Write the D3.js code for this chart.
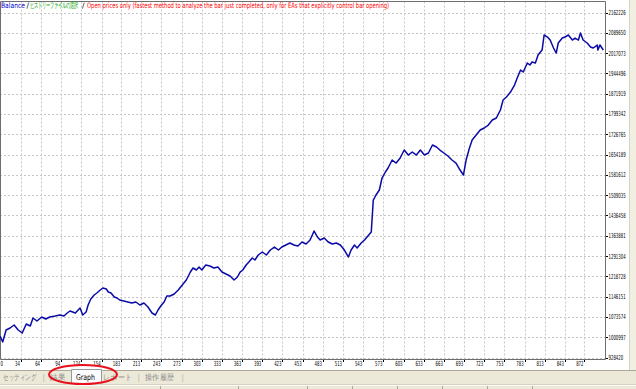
<!DOCTYPE html>
<html>
<head>
<meta charset="utf-8">
<script src="https://cdn.jsdelivr.net/npm/d3@7"></script>
<style>
    html, body { margin: 0; padding: 0; background: #fff; }
    svg { display: block; font-family: "DejaVu Sans", sans-serif; }
</style>
</head>
<body>
<svg id="chart" width="636" height="389"></svg>
<script>

// Trade number of each sampled point on the balance curve.
const trades = [
    3, 7, 12, 18, 24, 30, 36, 42, 48, 52, 58, 65, 71, 77, 85, 92, 98, 103, 107, 115,
    122, 126, 131, 134, 138, 143, 147, 152, 156, 161, 164, 168, 173, 177, 181, 187, 193, 199, 205, 211,
    217, 223, 229, 234, 238, 242, 247, 251, 256, 262, 268, 274, 280, 286, 290, 295, 299, 303, 309, 315,
    321, 327, 333, 339, 345, 351, 356, 360, 364, 369, 373, 378, 382, 387, 393, 399, 405, 411, 417, 422,
    428, 434, 440, 446, 452, 458, 464, 470, 475, 479, 485, 491, 497, 503, 509, 515, 521, 525, 530, 534,
    540, 545, 550, 555, 558, 562, 567, 571, 576, 580, 586, 592, 598, 604, 610, 616, 622, 628, 634, 640,
    646, 652, 657, 663, 669, 675, 681, 687, 692, 696, 701, 705, 711, 717, 723, 729, 735, 741, 747, 751,
    756, 762, 768, 772, 777, 781, 787, 791, 794, 799, 803, 809, 812, 817, 821, 826, 830, 833, 839, 843,
    848, 854, 858, 863, 866, 870, 876, 881, 885, 891, 892, 895, 900
];

// Account balance after each of those trades.
const balance = [
    1005300, 983800, 1026700, 1033900, 1044600, 1026700, 1016000, 1048200, 1041000, 1069700,
    1058900, 1073200, 1066100, 1073200, 1076800, 1080400, 1076800, 1087500, 1094700, 1087500,
    1105400, 1080400, 1091100, 1116100, 1137600, 1151900, 1159100, 1169800, 1176900, 1173400,
    1162600, 1159100, 1144700, 1141200, 1134000, 1130400, 1126900, 1123300, 1126900, 1116100,
    1123300, 1109000, 1087500, 1080400, 1098300, 1112600, 1126900, 1148300, 1148300, 1155500,
    1169800, 1187700, 1205500, 1234100, 1248500, 1241300, 1252000, 1241300, 1259200, 1255600,
    1248500, 1252000, 1234100, 1227000, 1219800, 1205500, 1216300, 1234100, 1241300, 1259200,
    1269900, 1284200, 1277100, 1294900, 1305700, 1294900, 1312800, 1323500, 1312800, 1323500,
    1330700, 1337900, 1330700, 1327100, 1341400, 1334300, 1348600, 1380800, 1359300, 1348600,
    1355700, 1341400, 1334300, 1337900, 1330700, 1312800, 1287800, 1312800, 1330700, 1320000,
    1337900, 1348600, 1362900, 1377200, 1491600, 1509500, 1527400, 1570300, 1591800, 1606100,
    1634700, 1623900, 1641800, 1670400, 1652500, 1663300, 1652500, 1670400, 1652500, 1659700,
    1688300, 1681100, 1670400, 1659700, 1649000, 1634700, 1623900, 1598900, 1581000, 1634700,
    1677600, 1706200, 1724100, 1741900, 1749100, 1759800, 1777700, 1784900, 1813500, 1849200,
    1859900, 1877800, 1902900, 1927900, 1956500, 1949400, 1981500, 1974400, 1985100, 1981500,
    2010100, 2028000, 2081700, 2074500, 2063800, 2035200, 2017300, 2053100, 2070900, 2074500,
    2081700, 2063800, 2070900, 2063800, 2088800, 2063800, 2053100, 2038800, 2035200, 2045900,
    2028000, 2045900, 2028000
];

// Tick labels as printed by the terminal.
const xTicks = [0, 34, 64, 94, 124, 154, 183, 213, 243, 273, 303, 333, 363, 393, 423, 453,
    483, 513, 543, 573, 603, 633, 663, 693, 723, 753, 783, 813, 843, 872];
const yTicks = [928420, 1000997, 1073574, 1146151, 1218728, 1291304, 1363881, 1436458, 1509035,
    1581612, 1654189, 1726765, 1799342, 1871919, 1944496, 2017073, 2089650, 2162226];

const titleParts = [
    { text: 'Balance', color: '#0000c8' },
    { text: '/', color: '#000000' },
    { text: 'ヒストリーファイルの選択', color: '#00a000' },
    { text: '/', color: '#000000' },
    { text: 'Open prices only (fastest method to analyze the bar just completed, only for EAs that explicitly control bar opening)', color: '#ff0000' }
];

const tabs = ['セッティング', '|', '結果', 'Graph', 'レポート', '|', '操作履歴', '|'];

const svg = d3.select('#chart');

const plot = { left: 0, right: 605, top: 1.5, bottom: 359 };

const x = d3.scaleLinear().domain([0, 900]).range([-2, 603.3]);
const y = d3.scaleLinear().domain([928420, 2162226]).range([357.5, 12.5]);

/**
 * The terminal font is far narrower than anything installed, so each text is
 * squeezed horizontally to the width it takes in the terminal.
 * @param {Object} sel - text selection with datum-bound positions
 * @param {Function} px - left/anchor x for a datum
 * @param {Function} py - baseline y for a datum
 * @param {Function} width - wanted width for a datum
 */
const fit = (sel, px, py, width) => sel.each(function (d, i) {
    const natural = this.getComputedTextLength() || 1;
    d3.select(this)
        .attr('x', 0).attr('y', 0)
        .attr('transform', `translate(${px(d, i)},${py(d, i)}) scale(${width(d, i) / natural},1)`);
});

// Window chrome: right strip and bottom tab bar.
svg.append('rect').attr('x', 630).attr('y', 0).attr('width', 6).attr('height', 371).attr('fill', '#f1efe2');
svg.append('line').attr('x1', 629.5).attr('x2', 629.5).attr('y1', 0).attr('y2', 371).attr('stroke', '#d8d4c4');
svg.append('rect').attr('x', 0).attr('y', 370).attr('width', 636).attr('height', 19).attr('fill', '#ece9d8');
svg.append('line').attr('x1', 0).attr('x2', 636).attr('y1', 370.5).attr('y2', 370.5).attr('stroke', '#aca899');
svg.append('line').attr('x1', 0).attr('x2', 636).attr('y1', 384.5).attr('y2', 384.5).attr('stroke', '#d6d2c2');
svg.append('line').attr('x1', 0).attr('x2', 636).attr('y1', 385.5).attr('y2', 385.5).attr('stroke', '#fbfaf6');

svg.append('g')
    .selectAll('line')
    .data([160, 238, 307, 352, 397, 442, 487, 532])
    .join('line')
    .attr('x1', d => d + 0.5).attr('x2', d => d + 0.5)
    .attr('y1', 386).attr('y2', 389)
    .attr('stroke', '#aca899');

// Gridlines.
svg.append('g')
    .selectAll('line')
    .data(yTicks)
    .join('line')
    .attr('x1', plot.left).attr('x2', plot.right)
    .attr('y1', d => Math.round(y(d)) + 0.5).attr('y2', d => Math.round(y(d)) + 0.5)
    .attr('stroke', '#c6c6c6').attr('stroke-dasharray', '2,2');

svg.append('g')
    .selectAll('line')
    .data(xTicks.slice(1))
    .join('line')
    .attr('x1', d => Math.round(x(d)) + 0.5).attr('x2', d => Math.round(x(d)) + 0.5)
    .attr('y1', plot.top).attr('y2', plot.bottom)
    .attr('stroke', '#c6c6c6').attr('stroke-dasharray', '2,2');

// Plot frame.
svg.append('path')
    .attr('d', `M${plot.left + 0.5},${plot.top}H${plot.right + 0.5}V${plot.bottom + 0.5}H${plot.left + 0.5}Z`)
    .attr('fill', 'none').attr('stroke', '#6e6e6e');

// Right axis.
svg.append('g')
    .selectAll('line')
    .data(yTicks)
    .join('line')
    .attr('x1', plot.right + 1).attr('x2', plot.right + 3)
    .attr('y1', d => Math.round(y(d)) + 0.5).attr('y2', d => Math.round(y(d)) + 0.5)
    .attr('stroke', '#000');

svg.append('g')
    .selectAll('text')
    .data(yTicks)
    .join('text')
    .attr('font-size', 7)
    .attr('fill', '#000')
    .text(d => d)
    .call(fit, () => 608.5, d => y(d) + 2.5, d => String(d).length * 2.45);

// Bottom axis.
svg.append('g')
    .selectAll('line')
    .data(xTicks.slice(1))
    .join('line')
    .attr('x1', d => Math.round(x(d)) + 0.5).attr('x2', d => Math.round(x(d)) + 0.5)
    .attr('y1', plot.bottom + 1).attr('y2', plot.bottom + 3)
    .attr('stroke', '#000');

svg.append('g')
    .selectAll('text')
    .data(xTicks)
    .join('text')
    .attr('text-anchor', 'end')
    .attr('font-size', 7)
    .attr('fill', '#000')
    .text(d => d)
    .call(fit, d => Math.max(x(d) - 1, 3), () => 366, d => String(d).length * 2.45);

// Balance curve.
const points = trades.map((t, i) => [t, balance[i]]);

svg.append('path')
    .datum(points)
    .attr('fill', 'none')
    .attr('stroke', '#0a0aa8')
    .attr('stroke-width', 1.5)
    .attr('stroke-linejoin', 'round')
    .attr('d', d3.line().x(d => x(d[0])).y(d => y(d[1])));

// Title line, each piece condensed to the width it takes in the terminal.
const titleX = [1, 26.5, 30, 82, 87];
const titleW = [24, 2.5, 51, 2.5, 303];

svg.append('g')
    .selectAll('text')
    .data(titleParts)
    .join('text')
    .attr('font-size', 7.5)
    .attr('fill', d => d.color)
    .text(d => d.text)
    .call(fit, (d, i) => titleX[i], () => 7.5, (d, i) => titleW[i]);

// Selected tab box.
svg.append('path')
    .attr('d', 'M71.5,383.5V369.5H101.5V383.5')
    .attr('fill', '#fcfcfe').attr('stroke', '#919b9c');

const tabX = [3, 43, 50, 76, 103, 138, 145, 182];
const tabW = [33, 1.5, 15, 19, 28, 1.5, 28, 1.5];

svg.append('g')
    .selectAll('text')
    .data(tabs)
    .join('text')
    .attr('font-size', 8)
    .attr('fill', d => d === 'Graph' ? '#000' : '#8a8a8a')
    .text(d => d)
    .call(fit, (d, i) => tabX[i], () => 379.5, (d, i) => tabW[i]);

// Red hand-drawn marker round the Graph tab.
svg.append('ellipse')
    .attr('cx', 83).attr('cy', 374.5)
    .attr('rx', 34).attr('ry', 9.5)
    .attr('fill', 'none')
    .attr('stroke', '#e8101a')
    .attr('stroke-width', 2);

</script>
</body>
</html>
